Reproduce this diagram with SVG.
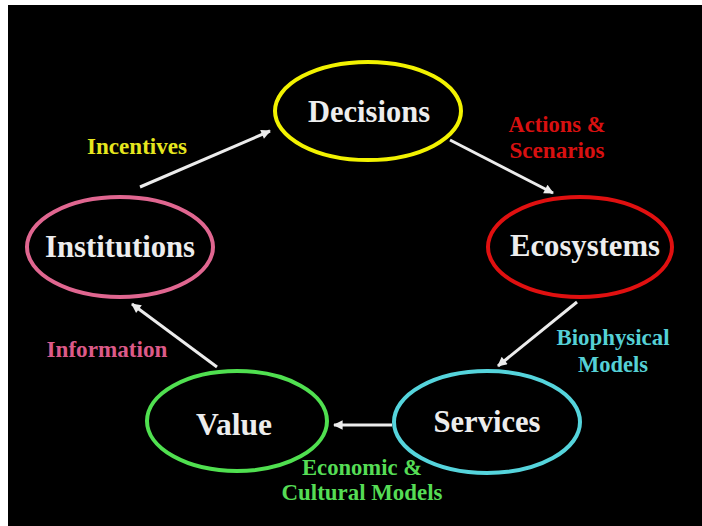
<svg xmlns="http://www.w3.org/2000/svg" width="702" height="526" viewBox="0 0 702 526">
  <defs>
    <marker id="head" viewBox="0 0 10 10" refX="9" refY="5" markerWidth="4" markerHeight="3.2" orient="auto" markerUnits="strokeWidth">
      <path d="M0,0 L10,5 L0,10 z" fill="#ececec"/>
    </marker>
    <style>
      .node { fill: #000; stroke-width: 4; }
      .title { font-family: "Liberation Serif", "Times New Roman", serif; font-weight: bold; font-size: 31px; fill: #ededed; text-anchor: middle; }
      .lbl { font-family: "Liberation Serif", "Times New Roman", serif; font-weight: bold; font-size: 23px; text-anchor: middle; }
      .edge { stroke: #ececec; stroke-width: 3; fill: none; marker-end: url(#head); }
    </style>
  </defs>

  <!-- frame and background -->
  <rect x="0" y="0" width="702" height="526" fill="#ffffff"/>
  <rect x="8" y="5" width="694" height="521" fill="#000000"/>

  <!-- connectors -->
  <g id="connectors">
    <line class="edge" x1="140" y1="187" x2="270" y2="131"/>
    <line class="edge" x1="450" y1="140" x2="553" y2="193"/>
    <line class="edge" x1="577" y1="302" x2="498" y2="366"/>
    <line class="edge" x1="392" y1="425" x2="334" y2="425"/>
    <line class="edge" x1="217" y1="367" x2="132" y2="304"/>
  </g>

  <!-- edge labels -->
  <g id="labels">
    <text class="lbl" x="137" y="154" fill="#e6e61e" textLength="100" lengthAdjust="spacingAndGlyphs">Incentives</text>
    <text class="lbl" x="557" y="132" fill="#d81010" textLength="97" lengthAdjust="spacingAndGlyphs">Actions &amp;</text>
    <text class="lbl" x="557" y="158" fill="#d81010" textLength="95" lengthAdjust="spacingAndGlyphs">Scenarios</text>
    <text class="lbl" x="613" y="345" fill="#55d0d6" textLength="113" lengthAdjust="spacingAndGlyphs">Biophysical</text>
    <text class="lbl" x="613" y="372" fill="#55d0d6" textLength="70" lengthAdjust="spacingAndGlyphs">Models</text>
    <text class="lbl" x="107" y="357" fill="#dc5a88" textLength="121" lengthAdjust="spacingAndGlyphs">Information</text>
    <text class="lbl" x="362" y="475" fill="#55dc55" textLength="120" lengthAdjust="spacingAndGlyphs">Economic &amp;</text>
    <text class="lbl" x="362" y="500" fill="#55dc55" textLength="161" lengthAdjust="spacingAndGlyphs">Cultural Models</text>
  </g>

  <!-- nodes -->
  <g id="decisions">
    <ellipse class="node" cx="368" cy="111" rx="93" ry="49" stroke="#f2f200"/>
    <text class="title" x="369" y="122" textLength="122" lengthAdjust="spacingAndGlyphs">Decisions</text>
  </g>
  <g id="ecosystems">
    <ellipse class="node" cx="580" cy="247" rx="92" ry="50" stroke="#e01010"/>
    <text class="title" x="585" y="256" textLength="150" lengthAdjust="spacingAndGlyphs">Ecosystems</text>
  </g>
  <g id="services">
    <ellipse class="node" cx="487" cy="422" rx="93" ry="51" stroke="#55d4dc"/>
    <text class="title" x="487" y="432" textLength="107" lengthAdjust="spacingAndGlyphs">Services</text>
  </g>
  <g id="value">
    <ellipse class="node" cx="237" cy="421" rx="90" ry="50" stroke="#50e050"/>
    <text class="title" x="234" y="435" textLength="76" lengthAdjust="spacingAndGlyphs">Value</text>
  </g>
  <g id="institutions">
    <ellipse class="node" cx="120" cy="247" rx="93" ry="50" stroke="#e06690"/>
    <text class="title" x="120" y="257" textLength="150" lengthAdjust="spacingAndGlyphs">Institutions</text>
  </g>
</svg>
